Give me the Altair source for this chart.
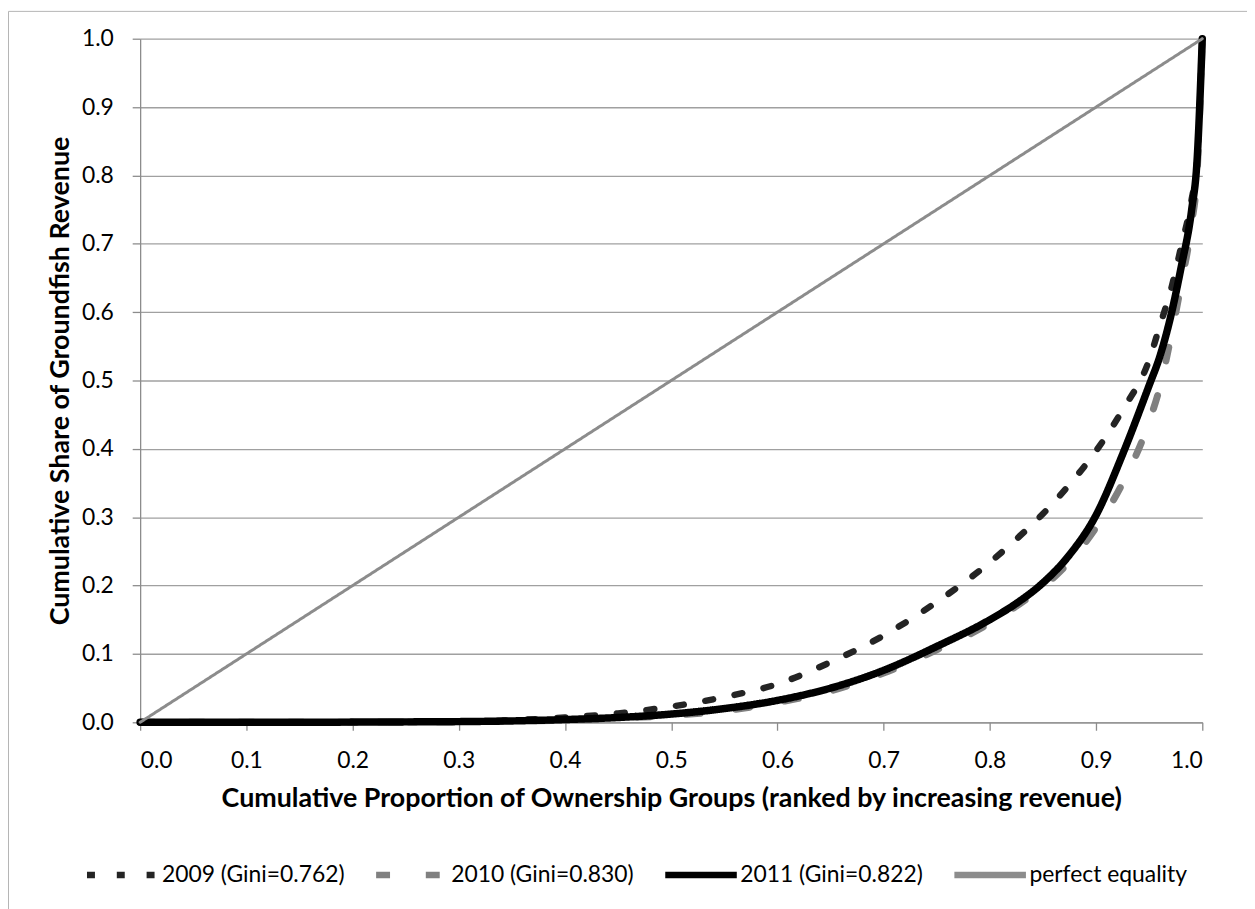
import altair as alt
import pandas as pd

# ---- data ----
x_grid = [0.0, 0.05, 0.10, 0.15, 0.20, 0.25, 0.30, 0.35, 0.40, 0.45, 0.50, 0.55,
          0.60, 0.65, 0.70, 0.75, 0.80, 0.825, 0.85, 0.875, 0.90, 0.925, 0.95, 0.96,
          0.97, 0.98, 0.99, 0.995, 1.0]
share_2009 = [0.0, 0.0, 0.0, 0.0, 0.0002, 0.0005, 0.001, 0.003, 0.007, 0.013, 0.023, 0.037,
              0.056, 0.088, 0.127, 0.176, 0.234, 0.268, 0.305, 0.348, 0.397, 0.457, 0.53, 0.58,
              0.63, 0.695, 0.765, 0.82, 1.0]
share_2010 = [0.0, 0.0, 0.0, 0.0, 0.0002, 0.0004, 0.0008, 0.0015, 0.003, 0.006, 0.010, 0.017,
              0.029, 0.046, 0.072, 0.106, 0.145, 0.170, 0.198, 0.235, 0.285, 0.350, 0.44, 0.49,
              0.56, 0.64, 0.73, 0.80, 1.0]
share_2011 = [0.0, 0.0, 0.0, 0.0, 0.0003, 0.0006, 0.001, 0.002, 0.004, 0.007, 0.012, 0.020,
              0.032, 0.050, 0.076, 0.111, 0.150, 0.174, 0.204, 0.245, 0.303, 0.392, 0.493, 0.535,
              0.592, 0.665, 0.75, 0.82, 1.0]
equality_x = [0.0, 1.0]
equality_y = [0.0, 1.0]

series_names = ["2009 (Gini=0.762)", "2010 (Gini=0.830)", "2011 (Gini=0.822)", "perfect equality"]
series_colors = ["#242424", "#808080", "#000000", "#8c8c8c"]
series_dashes = [[8, 22], [14, 36], [1, 0], [1, 0]]
# stroke widths via an evenly stepped point scale (step 0.5 from 3 to 7.5)
width_domain = ["perfect equality", "_w1", "_w2", "_w3", "_w4", "_w5", "_w6",
                "2009 (Gini=0.762)", "2010 (Gini=0.830)", "2011 (Gini=0.822)"]
width_range = [3, 7.5]
x_ticks = [round(i * 0.1, 1) for i in range(11)]
y_ticks = [round(i * 0.1, 1) for i in range(11)]

rows = []
for name, ys in zip(series_names[:3], [share_2009, share_2010, share_2011]):
    for i, (xv, yv) in enumerate(zip(x_grid, ys)):
        rows.append({"series": name, "x": xv, "y": yv, "order": i})
for i, (xv, yv) in enumerate(zip(equality_x, equality_y)):
    rows.append({"series": series_names[3], "x": xv, "y": yv, "order": i})
df = pd.DataFrame(rows)

FONT = "Lato"

lines = alt.Chart(df).mark_line(strokeCap="round", strokeJoin="round", interpolate="monotone").encode(
    x=alt.X("x:Q", scale=alt.Scale(domain=[0, 1], nice=False, zero=False),
            axis=alt.Axis(values=x_ticks, format=".1f", grid=False,
                          title="Cumulative Proportion of Ownership Groups (ranked by increasing revenue)",
                          labelPadding=20, titlePadding=13)),
    y=alt.Y("y:Q", scale=alt.Scale(domain=[0, 1], nice=False),
            axis=alt.Axis(values=y_ticks, format=".1f", grid=True,
                          title="Cumulative Share of Groundfish Revenue",
                          labelPadding=19, titlePadding=7)),
    color=alt.Color("series:N", scale=alt.Scale(domain=series_names, range=series_colors),
                    legend=alt.Legend(title=None, orient="none", legendX=-57, legendY=802,
                                      direction="horizontal", columns=4,
                                      symbolType="stroke", symbolSize=5184, symbolStrokeWidth=6.5,
                                      labelFont=FONT, labelFontSize=23, labelColor="#000000",
                                      labelOffset=0, columnPadding=18, labelLimit=400)),
    strokeDash=alt.StrokeDash("series:N", scale=alt.Scale(domain=series_names, range=series_dashes)),
    strokeWidth=alt.StrokeWidth("series:N", scale=alt.Scale(type="point", domain=width_domain,
                                                            range=width_range, padding=0),
                                legend=None),
    order="order:Q",
)

frame_df = pd.DataFrame({"k": [0]})
frame_left = alt.Chart(frame_df).mark_rule(color="#b4b4b4", strokeWidth=1).encode(
    x=alt.value(-132.5), y=alt.value(-27.5), y2=alt.value(1000))
frame_top = alt.Chart(frame_df).mark_rule(color="#b4b4b4", strokeWidth=1).encode(
    x=alt.value(-132.5), x2=alt.value(1200), y=alt.value(-27.5))

chart = alt.layer(frame_left, frame_top, lines).properties(
    width=1069, height=688,
    autosize=alt.AutoSizeParams(type="none"),
    padding={"left": 133, "top": 28, "right": 45, "bottom": 185},
    background="white",
).configure_view(stroke=None).configure_axis(
    labelFont=FONT, labelFontSize=23, labelColor="#000000",
    titleFont=FONT, titleFontSize=27, titleFontWeight="bold", titleColor="#000000",
    domainColor="#8c8c8c", domainWidth=1.3, tickColor="#8c8c8c", tickSize=8, tickWidth=1.3,
    gridColor="#a0a0a0", gridWidth=1.3,
)

chart.save("out.html", embed_options={"renderer": "svg", "actions": False})
